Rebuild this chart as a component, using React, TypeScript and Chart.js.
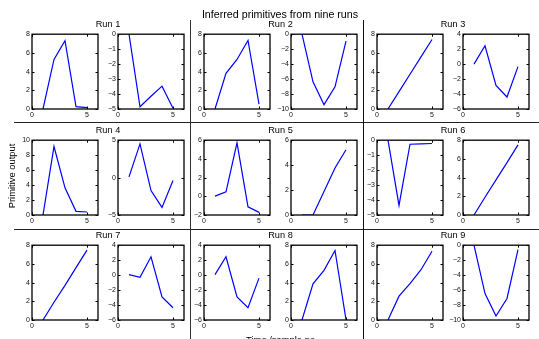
import React, { useEffect, useRef } from "react";
import { Chart, registerables } from "chart.js";

Chart.register(...registerables);

// ---------- data ----------
const sampleTimes = [1, 2, 3, 4, 5];
const xTickValues = [0, 5];
const xMin = 0;
const xMax = 6;

const runTitles = ["Run 1", "Run 2", "Run 3", "Run 4", "Run 5", "Run 6", "Run 7", "Run 8", "Run 9"];

const ticks0to8 = [0, 2, 4, 6, 8];
const ticks0to10 = [0, 2, 4, 6, 8, 10];
const ticksM5to0 = [-5, -4, -3, -2, -1, 0];
const ticksM10to0 = [-10, -8, -6, -4, -2, 0];
const ticksM6to4 = [-6, -4, -2, 0, 2, 4];
const ticksM5to5 = [-5, 0, 5];
const ticksM2to6 = [-2, 0, 2, 4, 6];
const ticks0to6 = [0, 2, 4, 6];

const run1Left = [0, 5.3, 7.3, 0.25, 0.15];
const run1Right = [0, -4.85, -4.15, -3.47, -4.95];
const run2Left = [0, 3.82, 5.3, 7.33, 0.53];
const run2Right = [0, -6.37, -9.42, -7.03, -0.93];
const run3Left = [0, 1.86, 3.72, 5.58, 7.43];
const run3Right = [0, 2.45, -2.86, -4.4, -0.34];
const run4Left = [0, 9.16, 3.63, 0.49, 0.4];
const run4Right = [0.09, 4.51, -1.73, -3.98, -0.4];
const run5Left = [0.02, 0.48, 5.72, -1.12, -1.72];
const run5Right = [0, 0, 1.88, 3.77, 5.23];
const run6Left = [0, -4.36, -0.27, -0.24, -0.22];
const run6Right = [0, 1.9, 3.75, 5.6, 7.5];
const run7Left = [0, 1.9, 3.7, 5.6, 7.47];
const run7Right = [0.06, -0.29, 2.45, -2.9, -4.36];
const run8Left = [0.06, 2.45, -2.9, -4.36, -0.4];
const run8Right = [0, 3.86, 5.31, 7.43, 0.05];
const run9Left = [0, 2.55, 3.9, 5.38, 7.36];
const run9Right = [0, -6.46, -9.47, -7.12, -0.58];

type PanelSpec = { values: number[]; ticks: number[] };

const panels: PanelSpec[][] = [
  [{ values: run1Left, ticks: ticks0to8 }, { values: run1Right, ticks: ticksM5to0 }],
  [{ values: run2Left, ticks: ticks0to8 }, { values: run2Right, ticks: ticksM10to0 }],
  [{ values: run3Left, ticks: ticks0to8 }, { values: run3Right, ticks: ticksM6to4 }],
  [{ values: run4Left, ticks: ticks0to10 }, { values: run4Right, ticks: ticksM5to5 }],
  [{ values: run5Left, ticks: ticksM2to6 }, { values: run5Right, ticks: ticks0to6 }],
  [{ values: run6Left, ticks: ticksM5to0 }, { values: run6Right, ticks: ticks0to8 }],
  [{ values: run7Left, ticks: ticks0to8 }, { values: run7Right, ticks: ticksM6to4 }],
  [{ values: run8Left, ticks: ticksM6to4 }, { values: run8Right, ticks: ticks0to8 }],
  [{ values: run9Left, ticks: ticks0to8 }, { values: run9Right, ticks: ticksM10to0 }],
];

// ---------- layout ----------
const FONT = "'Liberation Sans', Arial, Helvetica, sans-serif";
const colLefts = [32, 118, 204, 291, 377, 463];
const rowTops = [33, 139, 244];
const BOX_W = 66;
const BOX_H = 76;
const AXIS_W = 20;
const AXIS_H = 11;
const PAD_T = 5;
const PAD_R = 5;
const CW = BOX_W + AXIS_W + PAD_R;
const CH = BOX_H + PAD_T + AXIS_H;

const fmt = (v: number | string) => {
  const n = Number(v);
  return n < 0 ? "\u2212" + Math.abs(n) : String(n);
};

const boxPlugin = {
  id: "mplBox",
  afterDraw(chart: any) {
    const { ctx, chartArea: a, scales } = chart;
    ctx.save();
    ctx.strokeStyle = "#000";
    ctx.lineWidth = 1;
    const L = 2.5;
    ctx.beginPath();
    scales.y.ticks.forEach((t: any) => {
      const y = Math.round(scales.y.getPixelForValue(t.value)) + 0.5;
      ctx.moveTo(a.left, y);
      ctx.lineTo(a.left + L, y);
      ctx.moveTo(a.right, y);
      ctx.lineTo(a.right - L, y);
    });
    scales.x.ticks.forEach((t: any) => {
      const x = Math.round(scales.x.getPixelForValue(t.value)) + 0.5;
      ctx.moveTo(x, a.bottom);
      ctx.lineTo(x, a.bottom - L);
      ctx.moveTo(x, a.top);
      ctx.lineTo(x, a.top + L);
    });
    ctx.stroke();
    ctx.lineWidth = 1.3;
    ctx.strokeRect(a.left, a.top, a.right - a.left, a.bottom - a.top);
    ctx.restore();
  },
};

function Panel({ spec, left, top }: { spec: PanelSpec; left: number; top: number }) {
  const ref = useRef<HTMLCanvasElement>(null);
  useEffect(() => {
    if (!ref.current) return;
    const yt = spec.ticks;
    const chart = new Chart(ref.current, {
      type: "line",
      data: {
        datasets: [
          {
            data: sampleTimes.map((x, i) => ({ x, y: spec.values[i] })),
            borderColor: "#0000ff",
            borderWidth: 1.2,
            pointRadius: 0,
            fill: false,
            tension: 0,
          },
        ],
      },
      options: {
        animation: false,
        responsive: false,
        maintainAspectRatio: false,
        devicePixelRatio: 1,
        events: [],
        layout: { padding: { top: PAD_T, right: PAD_R, left: 0, bottom: 0 } },
        plugins: { legend: { display: false }, tooltip: { enabled: false }, title: { display: false } },
        scales: {
          x: {
            type: "linear",
            min: xMin,
            max: xMax,
            afterBuildTicks: (s: any) => {
              s.ticks = xTickValues.map((v) => ({ value: v }));
            },
            afterFit: (s: any) => {
              s.height = AXIS_H;
            },
            grid: { display: false, drawTicks: false },
            border: { display: false },
            ticks: {
              autoSkip: false,
              maxRotation: 0,
              padding: 2,
              color: "#111",
              font: { size: 7, family: FONT },
              callback: (v: any) => fmt(v),
            },
          },
          y: {
            type: "linear",
            min: yt[0],
            max: yt[yt.length - 1],
            afterBuildTicks: (s: any) => {
              s.ticks = yt.map((v) => ({ value: v }));
            },
            afterFit: (s: any) => {
              s.width = AXIS_W;
            },
            grid: { display: false, drawTicks: false },
            border: { display: false },
            ticks: {
              autoSkip: false,
              padding: 2,
              color: "#111",
              font: { size: 7, family: FONT },
              callback: (v: any) => fmt(v),
            },
          },
        },
      } as any,
      plugins: [boxPlugin],
    });
    return () => chart.destroy();
  }, []);
  return (
    <canvas
      ref={ref}
      width={CW}
      height={CH}
      style={{ position: "absolute", left: left - AXIS_W, top: top - PAD_T, width: CW, height: CH }}
    />
  );
}

export default function App() {
  const runFs = 9.2;
  const titleFs = 10.7;
  const labelFs = 9.4;
  return (
    <div
      style={{
        position: "absolute",
        left: 0,
        top: 0,
        width: 539,
        height: 339,
        overflow: "hidden",
        background: "#fff",
        fontFamily: FONT,
        color: "#000",
      }}
    >
      {/* separators */}
      <div style={{ position: "absolute", left: 14, top: 121.5, width: 525, height: 0, borderTop: "1.4px solid #222" }} />
      <div style={{ position: "absolute", left: 14, top: 228.5, width: 525, height: 0, borderTop: "1.4px solid #222" }} />
      <div style={{ position: "absolute", left: 190.3, top: 20, width: 0, height: 319, borderLeft: "1.5px solid #333" }} />
      <div style={{ position: "absolute", left: 362.5, top: 20, width: 0, height: 319, borderLeft: "1.4px solid #111" }} />

      {panels.map((pair, r) => {
        const row = Math.floor(r / 3);
        const col = r % 3;
        const top = rowTops[row];
        const l0 = colLefts[col * 2];
        const l1 = colLefts[col * 2 + 1];
        const cx = (l0 + l1 + BOX_W) / 2;
        return (
          <React.Fragment key={r}>
            <Panel spec={pair[0]} left={l0} top={top} />
            <Panel spec={pair[1]} left={l1} top={top} />
            <div
              style={{
                position: "absolute",
                left: cx - 40,
                width: 80,
                textAlign: "center",
                top: top - 5.2 - 0.8465 * runFs,
                fontSize: runFs,
                lineHeight: runFs + "px",
                whiteSpace: "nowrap",
              }}
            >
              {runTitles[r]}
            </div>
          </React.Fragment>
        );
      })}

      {/* main title */}
      <div
        style={{
          position: "absolute",
          left: 180,
          width: 200,
          textAlign: "center",
          top: 17.7 - 0.8465 * titleFs,
          fontSize: titleFs,
          lineHeight: titleFs + "px",
          whiteSpace: "nowrap",
        }}
      >
        Inferred primitives from nine runs
      </div>

      {/* y label */}
      <div
        style={{
          position: "absolute",
          left: 12,
          top: 175.5,
          fontSize: labelFs,
          lineHeight: labelFs + "px",
          whiteSpace: "nowrap",
          transform: "translate(-50%, -50%) rotate(-90deg)",
        }}
      >
        Primitive output
      </div>

      {/* x label */}
      <div
        style={{
          position: "absolute",
          left: 230.6,
          width: 100,
          textAlign: "center",
          top: 342.7 - 0.8465 * labelFs,
          fontSize: labelFs,
          lineHeight: labelFs + "px",
          whiteSpace: "nowrap",
        }}
      >
        Time /sample no
      </div>
    </div>
  );
}
